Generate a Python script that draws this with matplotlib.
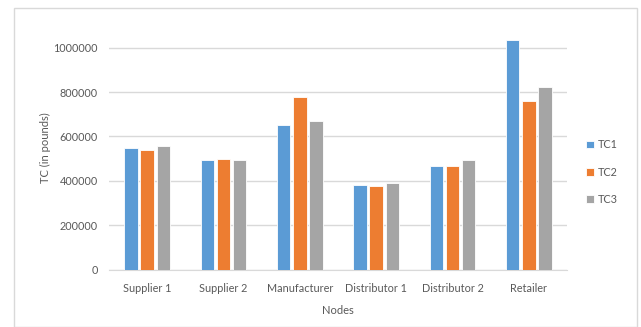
import matplotlib
matplotlib.use("Agg")
import matplotlib.pyplot as plt
import numpy as np
from matplotlib.patches import Rectangle

categories = ["Supplier 1", "Supplier 2", "Manufacturer", "Distributor 1", "Distributor 2", "Retailer"]
series_names = ["TC1", "TC2", "TC3"]
tc1 = [548000, 492000, 652000, 383000, 469000, 1037000]
tc2 = [541000, 499000, 776000, 377000, 469000, 758000]
tc3 = [559000, 492000, 670000, 389000, 492000, 824000]
colors = ["#5B9BD5", "#ED7D31", "#A5A5A5"]
yticks = [0, 200000, 400000, 600000, 800000, 1000000]

plt.rcParams['font.family'] = ['Lato', 'DejaVu Sans']
W, H = 641, 327
fig = plt.figure(figsize=(W/100, H/100), dpi=100)
fig.patches.append(Rectangle((14/W, 0), (637-14)/W, (327-8)/H, transform=fig.transFigure,
                             fill=False, edgecolor="#D9D9D9", linewidth=1))
ax = fig.add_axes([109/W, 1-269.5/H, (567-109)/W, (269.5-25)/H])

x = np.arange(len(categories))
bw = 0.175
step = 0.21
for i, (vals, name) in enumerate(zip([tc1, tc2, tc3], series_names)):
    ax.bar(x + (i-1)*step, vals, width=bw, color=colors[i], label=name, zorder=3,
           edgecolor="white", linewidth=0.6)

ax.set_xlim(-0.5, len(categories)-0.5)
ax.set_ylim(0, 1103000)
ax.set_yticks(yticks)
ax.set_yticklabels([str(v) for v in yticks])
ax.set_xticks(x)
ax.set_xticklabels(categories)
ax.yaxis.grid(True, color="#D9D9D9", linewidth=1, zorder=0)
for s in ["top", "right", "left"]:
    ax.spines[s].set_visible(False)
ax.spines["bottom"].set_color("#D9D9D9")
ax.tick_params(axis="both", length=0, labelsize=7.8, colors="#595959")
ax.tick_params(axis="y", pad=8)
ax.tick_params(axis="x", pad=10)
ax.set_ylabel("TC (in pounds)", fontsize=8, color="#595959", labelpad=2)
ax.set_xlabel("Nodes", fontsize=8, color="#595959", labelpad=8)

leg = fig.legend(loc="center left", bbox_to_anchor=(586/W, 1-172/H), frameon=False, fontsize=7.8,
                 labelcolor="#595959", handlelength=0.7, handleheight=0.7, handletextpad=0.4,
                 labelspacing=1.5, borderpad=0, borderaxespad=0)

fig.savefig("out.png", dpi=100)
